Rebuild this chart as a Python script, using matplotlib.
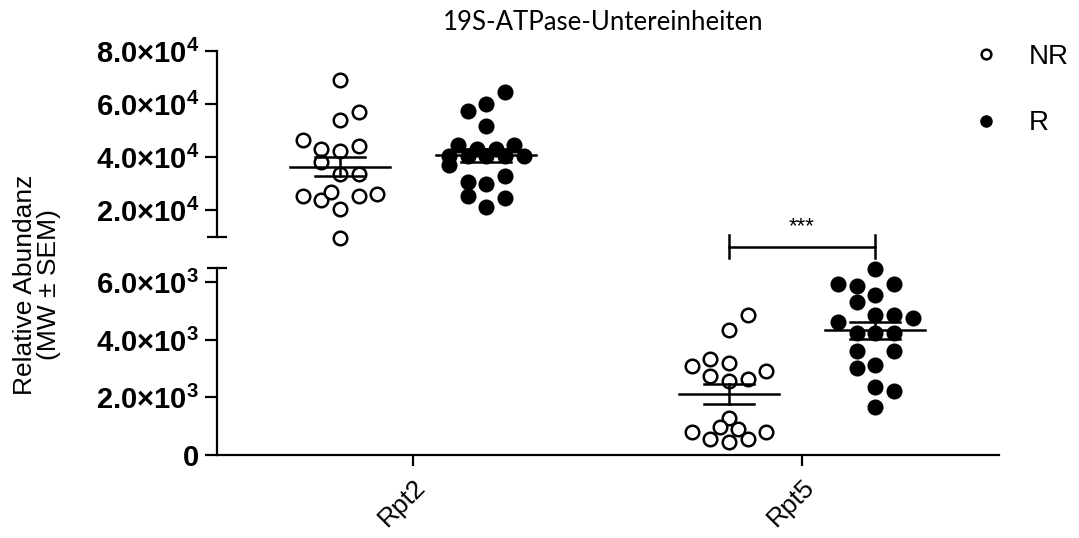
import numpy as np
import matplotlib
matplotlib.use("Agg")
import matplotlib.pyplot as plt
import matplotlib.transforms as mtransforms
from matplotlib.lines import Line2D

plt.rcParams["font.family"] = ["Liberation Sans", "DejaVu Sans"]
plt.rcParams["mathtext.fontset"] = "custom"
plt.rcParams["mathtext.rm"] = "Liberation Sans:bold"
plt.rcParams["mathtext.bf"] = "Liberation Sans:bold"
plt.rcParams["mathtext.default"] = "bf"

# ---------------------------------------------------------------------------
# Data: relative abundance per animal (NR = non-responder, R = responder)
# ---------------------------------------------------------------------------
CATEGORIES = ["Rpt2", "Rpt5"]
GROUPS = ["NR", "R"]

RPT2_NR = [69200, 57100, 54000, 46500, 44400, 43100, 42200, 38100, 33800,
           33800, 25600, 24000, 26900, 25600, 26300, 20400, 9600]
RPT2_R = [64400, 60000, 57500, 51900, 44800, 44800, 43300, 43300, 40600,
          40300, 40300, 40300, 40600, 37100, 32800, 30600, 29800, 25300,
          24800, 21200]
RPT5_NR = [4850, 4340, 3340, 3200, 3080, 2910, 2730, 2560, 2640, 1280,
           990, 900, 810, 810, 550, 460, 550]
RPT5_R = [6480, 5930, 5890, 5930, 5550, 5310, 4610, 4880, 4880, 4770,
          4240, 4240, 4240, 3600, 3600, 3020, 3140, 2380, 2210, 1680]

# scatter column of each point inside its group (GraphPad-style spreading)
RPT2_NR_COL = [0, 1, 0, -2, 1, -1, 0, -1, 0, 1, -2, -1, -0.5, 1, 2, 0, 0]
RPT2_R_COL = [1, 0, -1, 0, -1.5, 1.5, -0.5, 0.5, -2, -1, 0, 1, 2, -2, 1,
              -1, 0, -1, 1, 0]
RPT5_NR_COL = [1, 0, -1, 0, -2, 2, -1, 0, 1, 0, -0.5, 0.5, -2, 2, -1, 0, 1]
RPT5_R_COL = [0, -2, -1, 1, 0, -1, -2, 0, 1, 2, -1, 0, 1, -1, 1, -1, 0, 0,
              1, 0]

SERIES = [
    (0, "NR", RPT2_NR, RPT2_NR_COL),
    (0, "R", RPT2_R, RPT2_R_COL),
    (1, "NR", RPT5_NR, RPT5_NR_COL),
    (1, "R", RPT5_R, RPT5_R_COL),
]

GROUP_OFFSET = {"NR": -0.188, "R": 0.188}
COL_STEP = 0.048
MEAN_HALF = 0.128
SEM_HALF = 0.064

# ---------------------------------------------------------------------------
# Figure with broken y axis
# ---------------------------------------------------------------------------
W, H = 1079, 538
fig = plt.figure(figsize=(W / 100, H / 100), dpi=100)

def px_box(x0, y0, x1, y1):
    return [x0 / W, 1 - y1 / H, (x1 - x0) / W, (y1 - y0) / H]

ax_top = fig.add_axes(px_box(217, 51, 999, 237))
ax_bot = fig.add_axes(px_box(217, 268, 999, 455))

ax_top.set_ylim(1e4, 8e4)
ax_bot.set_ylim(0, 6500)
for ax in (ax_top, ax_bot):
    ax.set_xlim(-0.504, 1.506)
    for s in ("top", "right"):
        ax.spines[s].set_visible(False)
    ax.spines["left"].set_linewidth(1.6)
    ax.spines["bottom"].set_linewidth(1.6)
    ax.tick_params(axis="y", length=9, width=1.6, pad=4, labelsize=21)

ax_top.spines["bottom"].set_visible(False)
ax_top.tick_params(axis="x", bottom=False, labelbottom=False)

ax_top.set_yticks([2e4, 4e4, 6e4, 8e4])
ax_top.set_yticklabels(["2.0×10$^{4}$", "4.0×10$^{4}$", "6.0×10$^{4}$",
                        "8.0×10$^{4}$"], fontweight="bold")
ax_bot.set_yticks([0, 2e3, 4e3, 6e3])
ax_bot.set_yticklabels(["0", "2.0×10$^{3}$", "4.0×10$^{3}$",
                        "6.0×10$^{3}$"], fontweight="bold")

ax_bot.set_xticks(range(len(CATEGORIES)))
ax_bot.set_xticklabels(CATEGORIES, rotation=45, ha="right",
                       rotation_mode="anchor", fontsize=19)
ax_bot.tick_params(axis="x", length=8, width=1.6, pad=6)

# caps at the axis break
ax_top.plot(0, 1e4, marker="_", ms=14, mew=1.6, color="k",
            transform=ax_top.get_yaxis_transform(), clip_on=False)
ax_bot.plot(0, 6500, marker="_", ms=14, mew=1.6, color="k",
            transform=ax_bot.get_yaxis_transform(), clip_on=False)

# ---------------------------------------------------------------------------
# Points with mean ± SEM
# ---------------------------------------------------------------------------
for cat, grp, vals, cols in SERIES:
    ax = ax_top if cat == 0 else ax_bot
    vals = np.asarray(vals, dtype=float)
    xs = cat + GROUP_OFFSET[grp] + np.asarray(cols) * COL_STEP
    face = "white" if grp == "NR" else "black"
    ax.scatter(xs, vals, s=95, facecolor=face, edgecolor="black",
               linewidth=1.8, zorder=3, clip_on=False)

    xc = cat + GROUP_OFFSET[grp]
    mean = vals.mean()
    sem = vals.std(ddof=1) / np.sqrt(len(vals))
    ax.plot([xc - MEAN_HALF, xc + MEAN_HALF], [mean, mean], color="black",
            lw=1.8, zorder=4)
    ax.plot([xc - SEM_HALF, xc + SEM_HALF], [mean + sem, mean + sem],
            color="black", lw=1.8, zorder=4)
    ax.plot([xc - SEM_HALF, xc + SEM_HALF], [mean - sem, mean - sem],
            color="black", lw=1.8, zorder=4)
    ax.plot([xc, xc], [mean - sem, mean + sem], color="black", lw=1.8,
            zorder=4)

# significance bracket Rpt5 NR vs R
trans = mtransforms.blended_transform_factory(ax_bot.transData, fig.transFigure)
x1 = 1 + GROUP_OFFSET["NR"]
x2 = 1 + GROUP_OFFSET["R"]
yb = 1 - 246.5 / H
tick = 11.5 / H
for xx in (x1, x2):
    fig.add_artist(Line2D([xx, xx], [yb - tick, yb + tick], color="black",
                          lw=1.8, transform=trans))
fig.add_artist(Line2D([x1, x2], [yb, yb], color="black", lw=1.8,
                      transform=trans))
fig.text((x1 + x2) / 2, 1 - 227 / H, "***", transform=trans, ha="center",
         va="center", fontsize=16)

# ---------------------------------------------------------------------------
# Labels, title, legend
# ---------------------------------------------------------------------------
fig.text(37 / W, 1 - 285 / H, "Relative Abundanz\n(MW ± SEM)", rotation=90,
         ha="center", va="center", multialignment="center", fontsize=19,
         linespacing=0.95)
fig.text(603 / W, 1 - 22 / H, "19S-ATPase-Untereinheiten", ha="center",
         va="center", fontsize=18.5, family=["Lato", "DejaVu Sans"])

handles = [
    Line2D([], [], ls="none", marker="o", ms=7, mfc="white", mec="black",
           mew=1.8),
    Line2D([], [], ls="none", marker="o", ms=8, mfc="black", mec="black"),
]
fig.legend(handles, GROUPS, loc="upper left",
           bbox_to_anchor=(973 / W, 1 - 44 / H), frameon=False, fontsize=20,
           handlelength=0.9, handletextpad=1.1, labelspacing=1.45,
           borderpad=0, borderaxespad=0)

fig.savefig("out.png", dpi=100)
